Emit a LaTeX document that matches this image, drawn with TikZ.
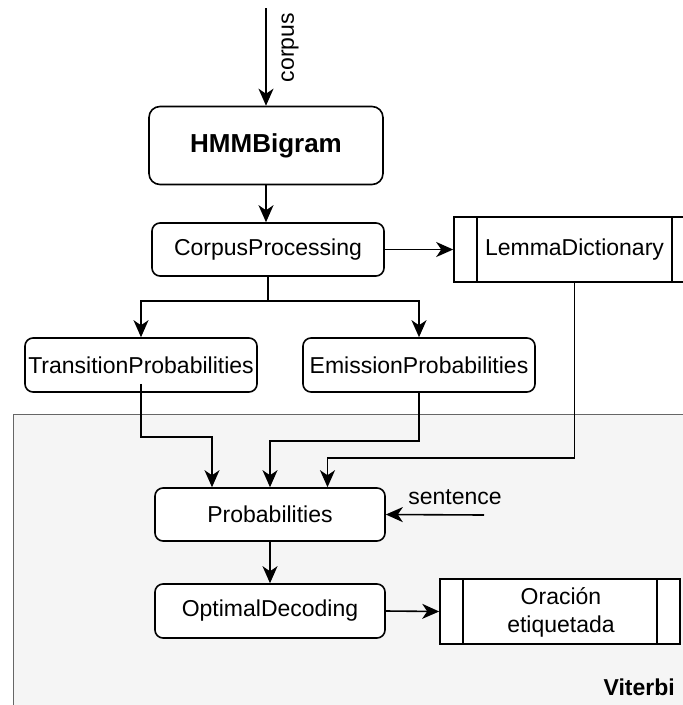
\documentclass[tikz,border=0pt]{standalone}
\usepackage{fontspec}
\setmainfont{Liberation Sans}
\usetikzlibrary{arrows.meta,calc}
\definecolor{contfill}{HTML}{F5F5F5}
\definecolor{contline}{HTML}{666666}
\tikzset{
  procbox/.style={draw=black,line width=1.6pt,fill=white,rounded corners=8pt,
    inner sep=0pt,align=center,font=\fontsize{23}{27}\selectfont},
  databox/.style={draw=black,line width=1.6pt,fill=white,rectangle,
    inner sep=0pt,align=center,font=\fontsize{23}{27}\selectfont},
  conn/.style={line width=1.6pt,-{Stealth[length=17pt,width=15pt,inset=5pt]}},
  lbl/.style={font=\fontsize{23}{27}\selectfont,inner sep=0pt}
}
\begin{document}
\begin{tikzpicture}[x=1pt,y=-1pt]
\useasboundingbox (0,0) rectangle (683,705);
\clip (0,0) rectangle (683,705);
% container
\draw[fill=contfill,draw=contline,line width=1pt] (13,414) rectangle (700,720);
\node[lbl,font=\fontsize{23}{27}\selectfont\bfseries,anchor=east] (vit) at (675,687) {Viterbi};

% nodes
\node[procbox,rounded corners=11pt,minimum width=234pt,minimum height=78pt,
  font=\fontsize{26}{30}\selectfont\bfseries] (hmm) at (266,145.5) {HMMBigram};
\node[procbox,minimum width=232pt,minimum height=53pt] (cp) at (268,249.5) {CorpusProcessing};
\node[databox,minimum width=241pt,minimum height=65pt] (lem) at (574.5,249.5) {};
\node[lbl] (lemt) at (574.5,249.5) {LemmaDictionary};
\node[procbox,minimum width=232pt,minimum height=54pt] (tp) at (141,365) {TransitionProbabilities};
\node[procbox,minimum width=232pt,minimum height=54pt] (ep) at (419,365) {EmissionProbabilities};
\node[procbox,minimum width=230pt,minimum height=53pt] (pr) at (270,514.5) {Probabilities};
\node[procbox,minimum width=230pt,minimum height=54pt] (od) at (270,611) {OptimalDecoding};
\node[databox,minimum width=240pt,minimum height=65pt] (or) at (560,611.5) {};
\node[lbl,align=center,font=\fontsize{23}{28}\selectfont] (ort) at (561,612) {Oración\\etiquetada};

% inner lines of data boxes
\draw[line width=1.6pt] ([xshift=24pt]lem.north west) -- ([xshift=24pt]lem.south west);
\draw[line width=1.6pt] ([xshift=-24pt]lem.north east) -- ([xshift=-24pt]lem.south east);
\draw[line width=1.6pt] ([xshift=24pt]or.north west) -- ([xshift=24pt]or.south west);
\draw[line width=1.6pt] ([xshift=-24pt]or.north east) -- ([xshift=-24pt]or.south east);

% connectors
\coordinate (cin) at (266,8);
\draw[conn] (cin) -- (hmm.north);
\node[lbl,rotate=90] (corpus) at (290,47.5) {corpus};
\draw[conn] (hmm.south) -- (hmm.south |- cp.north);
\draw[conn] (cp.east) -- (lem.west);
\draw[conn] (cp.south) -- ++(0,24) -| (tp.north);
\draw[conn] (cp.south) -- ++(0,24) -| (ep.north);
\draw[conn] ([yshift=9pt]tp.south) -- ++(0,53) -| ([xshift=-58pt]pr.north);
\draw[conn] (ep.south) -- ++(0,48) -| (pr.north);
\draw[conn] (lem.south) -- ++(0,175) -| ([xshift=57.5pt]pr.north);
\coordinate (sin) at (484,515);
\draw[conn] (sin) -- (pr.east);
\node[lbl] (sent) at (455,497) {sentence};
\draw[conn] (pr.south) -- (od.north);
\draw[conn] (od.east) -- (or.west);
\end{tikzpicture}
\end{document}
